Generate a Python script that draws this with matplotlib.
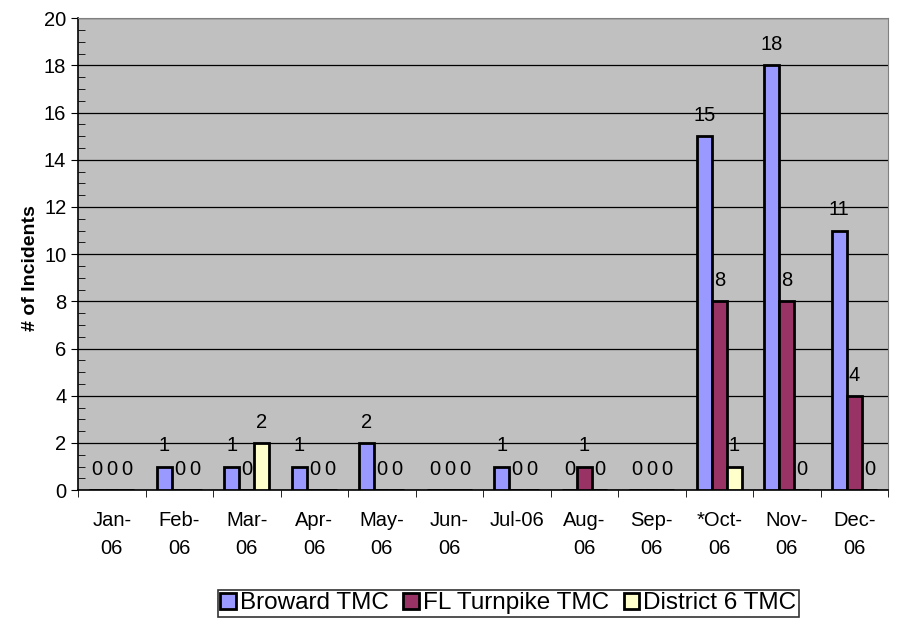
import matplotlib
matplotlib.use('Agg')
import matplotlib.pyplot as plt
import numpy as np

plt.rcParams['font.family'] = ['Liberation Sans', 'DejaVu Sans']

months = ["Jan-\n06", "Feb-\n06", "Mar-\n06", "Apr-\n06", "May-\n06", "Jun-\n06",
          "Jul-06", "Aug-\n06", "Sep-\n06", "*Oct-\n06", "Nov-\n06", "Dec-\n06"]
broward = [0, 1, 1, 1, 2, 0, 1, 0, 0, 15, 18, 11]
turnpike = [0, 0, 0, 0, 0, 0, 0, 1, 0, 8, 8, 4]
district6 = [0, 0, 2, 0, 0, 0, 0, 0, 0, 1, 0, 0]
series = [("Broward TMC", broward, "#9999FF"),
          ("FL Turnpike TMC", turnpike, "#993366"),
          ("District 6 TMC", district6, "#FFFFCC")]

fig = plt.figure(figsize=(8.98, 6.26), dpi=100)
ax = fig.add_axes([0.087, 0.217, 0.902, 0.754])
ax.set_facecolor("#C0C0C0")

x = np.arange(len(months))
w = 1 / 4.5
for k, (name, vals, col) in enumerate(series):
    pos = x + (k - 1) * w
    ax.bar(pos, vals, width=w, color=col, edgecolor="black", linewidth=2, label=name, zorder=3)
    for p, v in zip(pos, vals):
        ax.annotate(str(v), (p, v), xytext=(0, 8), textcoords="offset points",
                    ha="center", va="bottom", fontsize=14.5, zorder=4)

ax.set_xlim(-0.5, len(months) - 0.5)
ax.set_ylim(0, 20)
ax.set_yticks(np.arange(0, 21, 2))
ax.set_yticks(np.arange(0, 20.1, 0.5), minor=True)
ax.yaxis.grid(True, which="major", color="black", lw=0.9, zorder=1)
ax.tick_params(axis="y", which="major", direction="out", length=5, labelsize=14.5)
ax.tick_params(axis="y", which="minor", direction="in", length=5)
ax.set_xticks(x)
ax.set_xticklabels(months, fontsize=14.5, linespacing=1.6)
ax.set_xticks(np.arange(-0.5, len(months), 1), minor=True)
ax.tick_params(axis="x", which="major", length=0, pad=15)
ax.tick_params(axis="x", which="minor", direction="out", length=5)
ax.set_ylabel("# of Incidents", fontsize=14, fontweight="bold")
ax.yaxis.set_label_coords(-0.048, 0.47)

for s in ["top", "right"]:
    ax.spines[s].set_color("#808080")
for s in ["left", "bottom"]:
    ax.spines[s].set_color("black")
    ax.spines[s].set_linewidth(1.2)

leg = fig.legend(loc="center", bbox_to_anchor=(0.566, 0.036), ncol=3, fontsize=17.5,
                 frameon=True, fancybox=False, edgecolor="black", handlelength=0.65,
                 handleheight=0.65, handletextpad=0.15, columnspacing=0.6,
                 borderpad=0.12)
leg.get_frame().set_linewidth(1.2)

fig.savefig("out.png", dpi=100)
